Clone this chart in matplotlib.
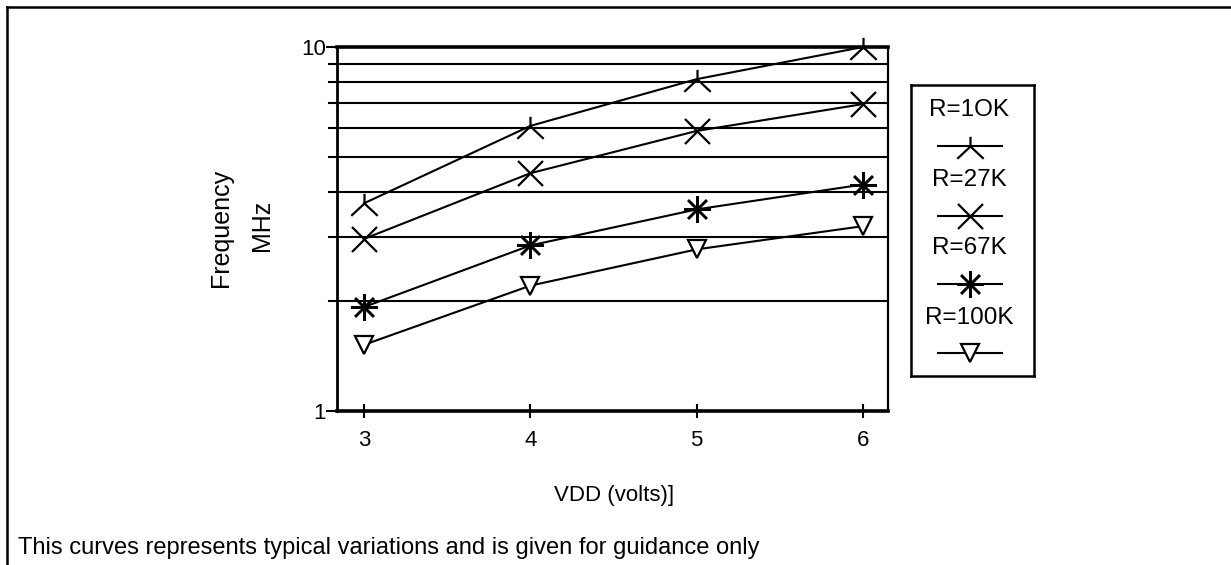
import numpy as np
import matplotlib.pyplot as plt
from matplotlib.path import Path
from matplotlib.lines import Line2D

plt.rcParams['font.family'] = ['Liberation Sans', 'DejaVu Sans']

# 数据
vdd = [3, 4, 5, 6]
f_10k = [3.72, 6.07, 8.16, 10.0]
f_27k = [2.97, 4.50, 5.88, 6.97]
f_67k = [1.93, 2.85, 3.58, 4.19]
f_100k = [1.52, 2.21, 2.78, 3.22]
labels = ['R=1OK', 'R=27K', 'R=67K', 'R=100K']

# 自定义倒Y形标记
tri = Path([(0, 0), (0, 0.55), (0, 0), (-0.75, -0.7), (0, 0), (0.75, -0.7)],
           [Path.MOVETO, Path.LINETO, Path.MOVETO, Path.LINETO, Path.MOVETO, Path.LINETO])
styles = [
    dict(marker=tri, ms=19, mew=1.6),
    dict(marker='x', ms=18, mew=1.6),
    dict(marker=(8, 2, 0), ms=19, mew=1.8),
    dict(marker='v', ms=13, mew=1.6, mfc='white'),
]
series = [f_10k, f_27k, f_67k, f_100k]

fig = plt.figure(figsize=(12.31, 5.65), dpi=100)

# 页面边框（上、左）
fig.add_artist(Line2D([7 / 1231, 7 / 1231], [0, 1 - 7 / 565], transform=fig.transFigure, color='black', lw=1.8))
fig.add_artist(Line2D([7 / 1231, 1], [1 - 7 / 565, 1 - 7 / 565], transform=fig.transFigure, color='black', lw=1.8))

ax = fig.add_axes([337 / 1231, 1 - 411 / 565, (888 - 337) / 1231, (411 - 47) / 565])
ax.set_yscale('log')
ax.set_ylim(1, 10)
ax.set_xlim(2.838, 6.15)

# 水平网格线 2..9
for g in range(2, 10):
    ax.axhline(g, color='black', lw=1.5, zorder=1)
    ax.plot([-0.015, 0], [g, g], color='black', lw=1.5, transform=ax.get_yaxis_transform(), clip_on=False)

for y, st in zip(series, styles):
    ax.plot(vdd, y, color='black', lw=1.5, mec='black', zorder=3, clip_on=False, **st)

ax.set_xticks(vdd)
ax.set_xticklabels([str(v) for v in vdd], fontsize=16)
ax.set_yticks([1, 10])
ax.set_yticklabels(['1', '10'], fontsize=16)
ax.minorticks_off()
ax.tick_params(axis='x', direction='inout', length=10, width=1.5, pad=9)
ax.tick_params(axis='y', direction='out', length=8, width=1.5, pad=0)
ax.spines['top'].set_linewidth(2.6)
ax.spines['bottom'].set_linewidth(2.6)
ax.spines['left'].set_linewidth(2.0)
ax.spines['right'].set_linewidth(1.6)

fig.text(614 / 1231, 1 - 495 / 565, 'VDD (volts)]', fontsize=16, ha='center', va='center')
fig.text(221 / 1231, 1 - 228 / 565, 'Frequency', fontsize=18, rotation=90, ha='center', va='center')
fig.text(262 / 1231, 1 - 225 / 565, 'MHz', fontsize=18, rotation=90, ha='center', va='center')
fig.text(18 / 1231, 1 - 548 / 565, 'This curves represents typical variations and is given for guidance only',
         fontsize=17, ha='left', va='center')

# 图例（标签在上，线型在下）
lg = fig.add_axes([911 / 1231, 1 - 376 / 565, (1034 - 911) / 1231, (376 - 85) / 565])
lg.set_xlim(911, 1034)
lg.set_ylim(376, 85)
lg.set_xticks([])
lg.set_yticks([])
for s in lg.spines.values():
    s.set_linewidth(1.8)
text_y = [110, 180, 248, 318]
line_y = [146, 216, 284, 353]
for lab, ty, ly, st in zip(labels, text_y, line_y, styles):
    lg.text(969, ty, lab, fontsize=17.5, ha='center', va='center')
    lg.plot([938, 1002], [ly, ly], color='black', lw=1.5)
    lg.plot([970], [ly], color='black', mec='black', **st)

fig.savefig('out.png', dpi=100)
